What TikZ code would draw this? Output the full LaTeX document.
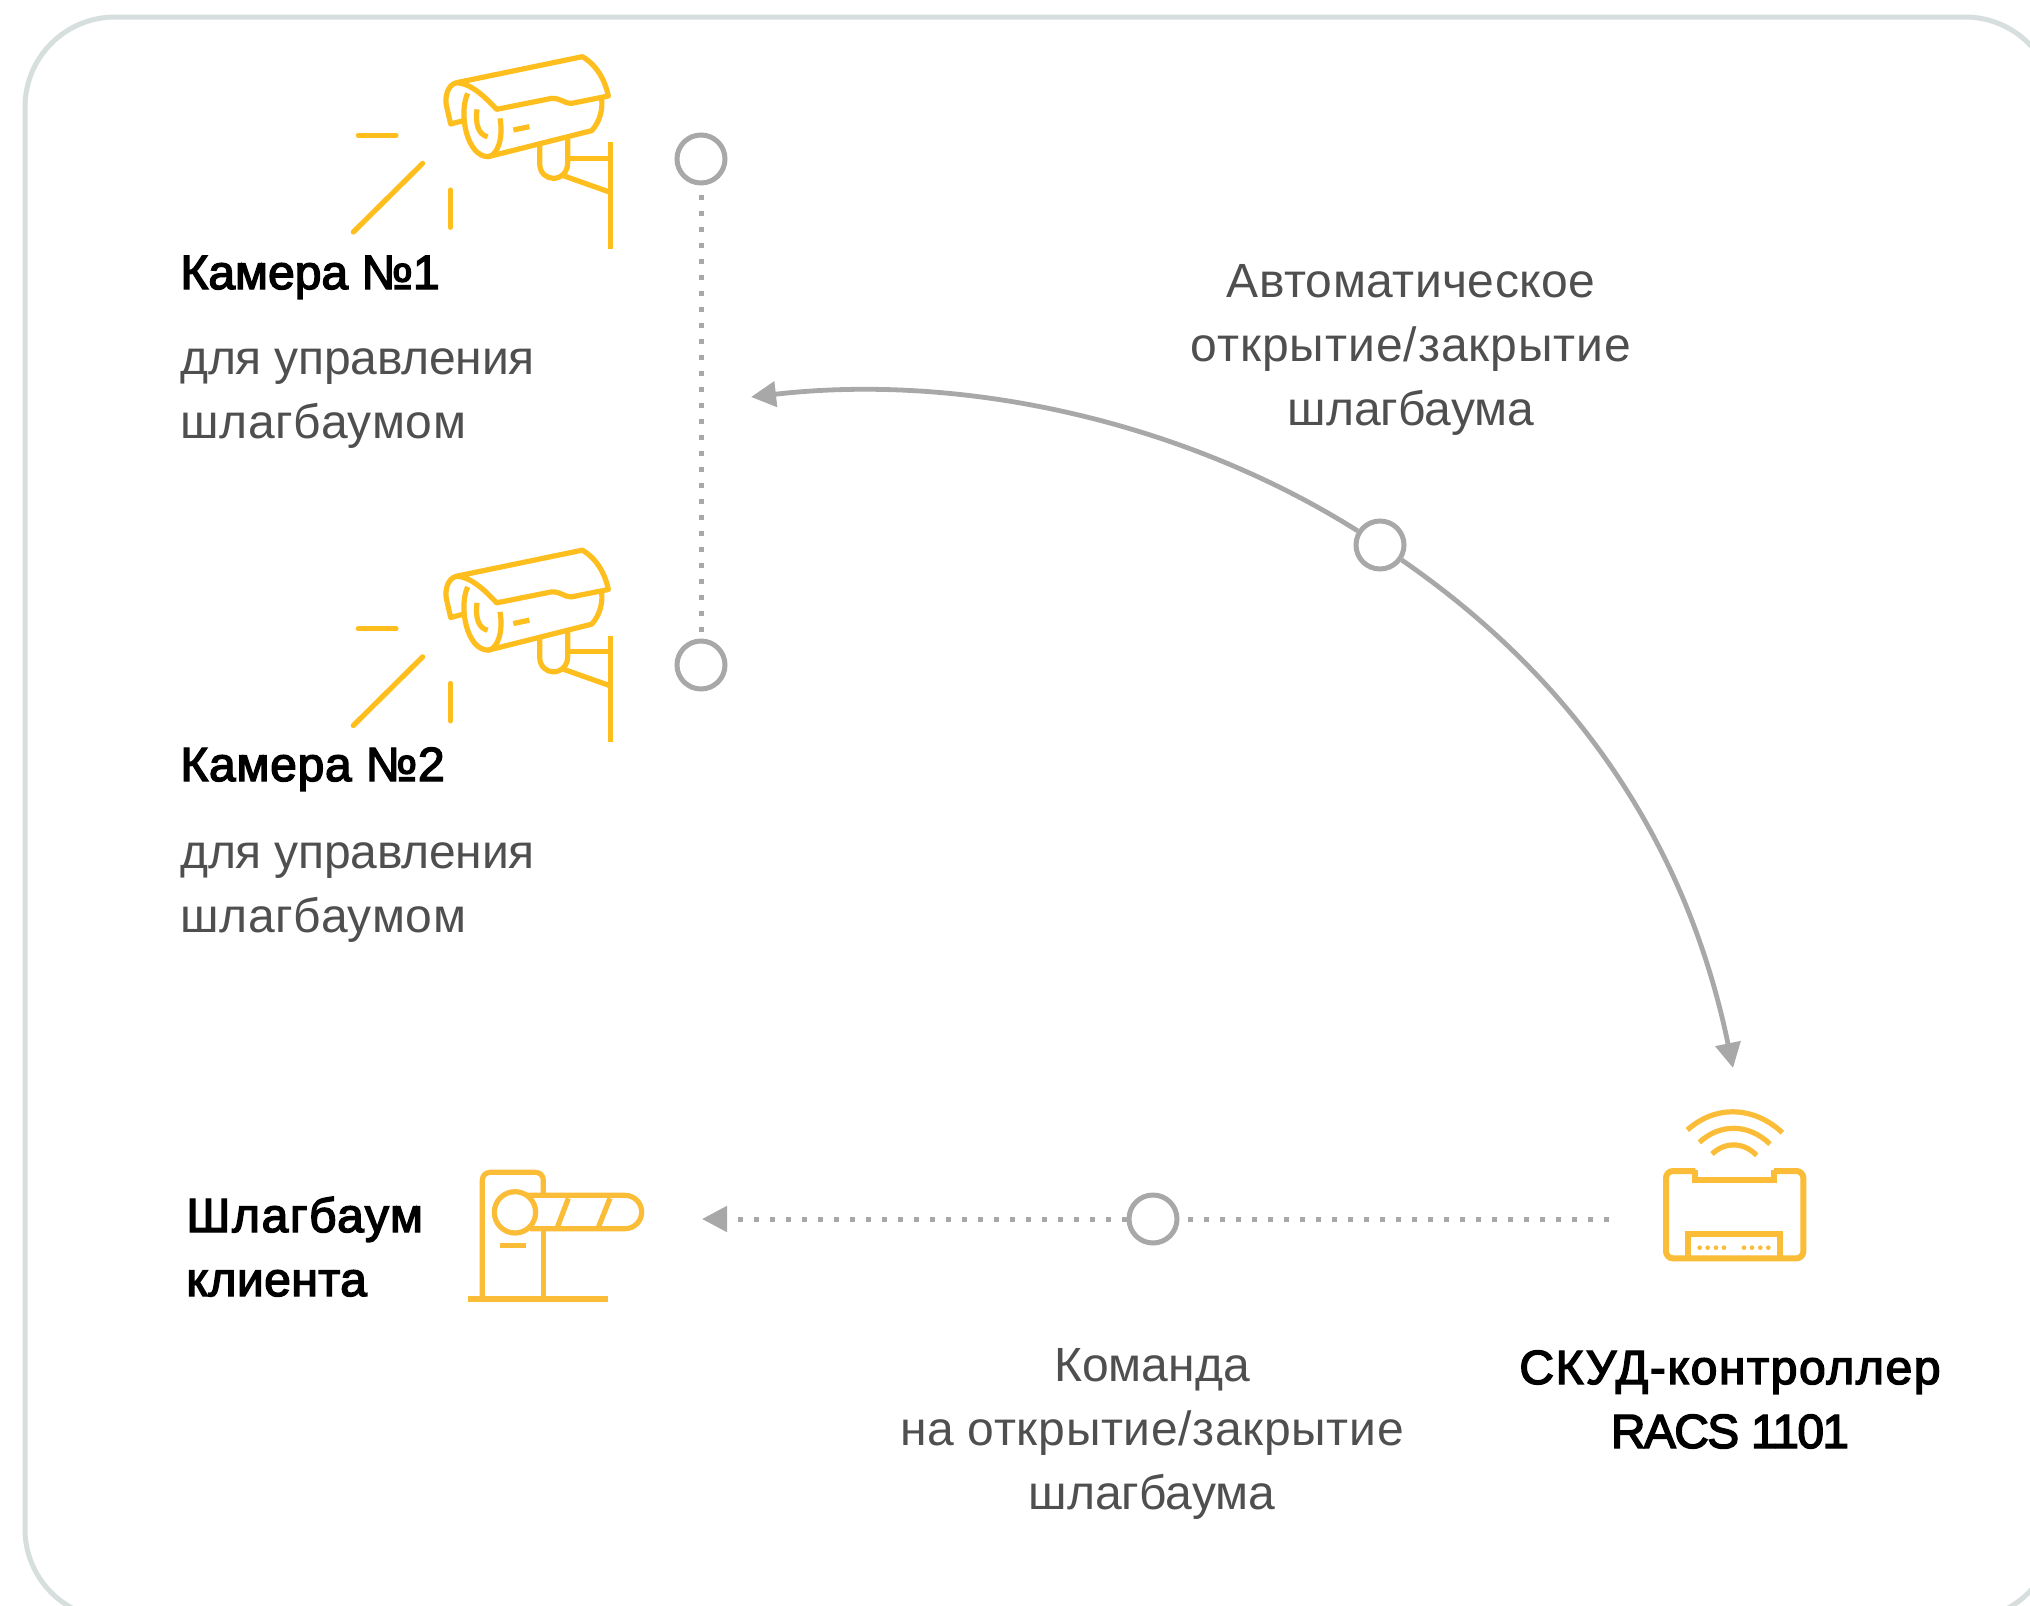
\documentclass[tikz,border=0pt]{standalone}
\usepackage{fontspec}
\setmainfont{Liberation Sans}
\newfontfamily\ttlfont[FakeBold=3]{Liberation Sans}
\newcommand{\spc}[2]{{\addfontfeature{LetterSpace=#1}#2}}
\usetikzlibrary{arrows.meta}
\definecolor{camy}{HTML}{FDBE1E}
\definecolor{gatey}{HTML}{FBBC38}
\definecolor{lineg}{HTML}{A8A8A8}
\definecolor{frameg}{HTML}{D7DEDE}
\definecolor{txtg}{HTML}{4F4F4F}
\tikzset{
  x=0.5pt,y=-0.5pt,
  zoomunits/.style={x=0.166667pt,y=-0.166667pt},
  ring/.style={circle,draw=lineg,line width=2.5pt,fill=white,minimum size=24pt,inner sep=0pt},
  flow/.style={draw=lineg,line width=2.4pt},
  dots/.style={draw=lineg,line width=2.5pt,dash pattern=on 2.5pt off 5.5pt},
  head/.style={-{Triangle[length=12.5pt,width=12.5pt,fill=lineg]}},
  ttl/.style={font=\fontsize{24}{32}\selectfont\ttlfont,text=black,inner sep=0pt},
  txt/.style={font=\fontsize{24}{32}\selectfont,text=txtg,inner sep=0pt},
  cam/.pic={
    \begin{scope}[zoomunits,draw=camy,line width=2.6pt,line join=round]
      \draw (500,238) .. controls (460,195) and (420,160) .. (380,158) -- (757,80) .. controls (800,105) and (825,150) .. (835,198) -- (725,220) .. controls (700,220) and (695,205) .. (665,205) -- cycle;
      \draw (380,158) .. controls (350,165) and (345,205) .. (349,225) -- (362,282) -- (400,272);
      \draw (413,190) .. controls (385,250) and (410,380) .. (475,380) .. controls (505,375) and (520,320) .. (510,265);
      \draw (475,380) -- (785,302) .. controls (810,275) and (820,235) .. (814,200);
      \draw (441,238) .. controls (435,280) and (445,315) .. (473,320);
      \draw (550,300) -- (598,290);
      \draw (629,342) -- (629,400) .. controls (629,430) and (650,445) .. (670,445) .. controls (695,445) and (713,425) .. (713,400) -- (713,325);
      \draw (713,385) -- (841,385);
      \draw (700,437) -- (841,487);
      \draw (841,337) -- (841,656);
      \draw[line cap=round] (85,316) -- (198,316);
      \draw[line cap=round] (70,606) -- (278,400);
      \draw[line cap=round] (361,480) -- (361,592);
    \end{scope}
  },
  gate/.pic={
    \begin{scope}[zoomunits,draw=gatey,line width=2.6pt,line join=round]
      \draw (97,470) -- (97,120) arc (180:270:23) -- (257,97) arc (270:360:23) -- (280,160);
      \draw (280,270) -- (280,470);
      \draw (55,477) -- (473,477);
      \draw (230,166) -- (525,166) arc (270:450:50) -- (240,266);
      \draw (355,175) -- (322,262);
      \draw (480,175) -- (445,262);
      \draw (150,317) -- (227,317);
      \draw (195,217) circle (62);
    \end{scope}
  },
  ctrl/.pic={
    \begin{scope}[zoomunits,draw=gatey,line width=3pt,line join=miter]
      \draw[rounded corners=3.5pt] (226,453) -- (138,453) -- (138,715) -- (550,715) -- (550,453) -- (462,453);
      \draw (226,450) -- (226,479) -- (462,479) -- (462,450);
      \draw (205,715) -- (205,643) -- (481,643) -- (481,715);
      \foreach \dx in {239,263,288,312,372,396,421,445}{\fill[gatey] (\dx,683) circle (7);}
      \draw[line width=2.6pt] (202,330) .. controls (285,255) and (400,257) .. (487,338);
      \draw[line width=2.6pt] (238,367) .. controls (300,310) and (385,310) .. (450,372);
      \draw[line width=2.6pt] (276,402) .. controls (315,365) and (370,365) .. (410,406);
    \end{scope}
  }
}
\begin{document}
\begin{tikzpicture}
\useasboundingbox (0,0) rectangle (2030,1606);
\fill[white] (0,0) rectangle (2030,1606);
\clip (0,0) rectangle (2030,1606);
\draw[frameg,line width=2.5pt,rounded corners=45pt] (25,17) rectangle (2055,1619);

\pic at (330,30) {cam};
\pic at (330,523.5) {cam};
\pic at (450,1140) {gate};
\pic at (1620,1020) {ctrl};

\node[ring] (r1) at (701,159) {};
\node[ring] (r2) at (701,665) {};
\node[ring] (rm) at (1380,545) {};
\node[ring] (rb) at (1153,1219) {};
\coordinate (tipcam) at (751,397);
\coordinate (tipctl) at (1733,1068);
\coordinate (tipgate) at (702,1219);
\coordinate (ctlout) at (1609,1219);

\draw[dots] (701,195) -- (r2);
\draw[flow,head] (rm) .. controls (1190,425) and (970,372) .. (tipcam);
\draw[flow,head] (rm) .. controls (1590,690) and (1690,860) .. (tipctl);
\draw[dots] (ctlout) -- (rb);
\draw[dots,head] (rb) -- (tipgate);

\node[ttl,anchor=base west] (cam1) at (180,289) {Камера №1};
\node[txt,anchor=base west,align=left] (cam1t) at (180,438) {\spc{-0.5}{для управления}\\\spc{1.5}{шлагбаумом}};
\node[ttl,anchor=base west] (cam2) at (180,781) {\spc{1.5}{Камера №2}};
\node[txt,anchor=base west,align=left] (cam2t) at (180,932) {\spc{-0.5}{для управления}\\\spc{1.5}{шлагбаумом}};
\node[ttl,anchor=base west,align=left] (gatet) at (186,1296) {\spc{3.4}{Шлагбаум}\\\spc{1}{клиента}};
\node[txt,anchor=base,align=center] (autot) at (1411,425) {\spc{1}{Автоматическое}\\\spc{2}{открытие/закрытие}\\шлагбаума};
\node[txt,anchor=base,align=center] (cmdt) at (1152,1509) {Команда\\\spc{1.4}{на открытие/закрытие}\\шлагбаума};
\node[ttl,anchor=base,align=center] (ctlt) at (1730,1448) {\spc{3.4}{СКУД-контроллер}\\\spc{-3.5}{RACS 1101}};
\end{tikzpicture}
\end{document}
